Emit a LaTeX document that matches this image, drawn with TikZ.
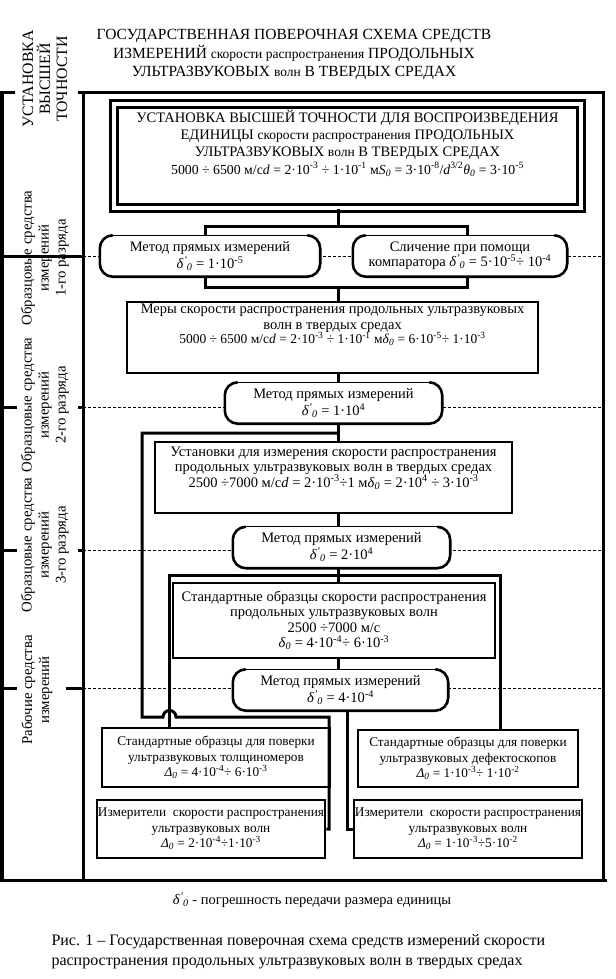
\documentclass[tikz,border=0pt]{standalone}
\usepackage{fontspec}
\setmainfont{Liberation Serif}

\newcommand{\fs}[2]{\fontsize{#1bp}{#2bp}\selectfont}
\newcommand{\dz}{\textit{δ}\textsubscript{\textit{0}}}
\newcommand{\dpr}{\textit{δ}\textsuperscript{\textit{'}}\kern-0.5bp\textsubscript{\textit{0}}}
\newcommand{\Dz}{\textit{Δ}\textsubscript{\textit{0}}}
\newcommand{\tn}[1]{10\textsuperscript{#1}}

\begin{document}
\begin{tikzpicture}[x=1bp,y=-1bp,font=\fs{14.5}{16.5},
  fr/.style={line width=3bp},
  ln/.style={line width=3bp},
  dl/.style={line width=0.6bp,dash pattern=on 3bp off 2bp},
  bx/.style={draw,line width=2.8bp,fill=white,align=center,inner sep=1bp,font=\fs{14.5}{15.5}},
  bt/.style={draw,line width=2.8bp,fill=white,align=center,inner sep=1bp,font=\fs{13.3}{15.5}},
  mt/.style={fill=white,rounded corners=13bp,align=center,inner sep=1bp,minimum height=41bp,font=\fs{14.5}{17}},
  side/.style={rotate=90,align=center,font=\fs{14.8}{17}}]
\useasboundingbox (0,0) rectangle (616,979);
% title
\node[font=\fs{15.5}{18.5},align=center] (ttl) at (294,55) {ГОСУДАРСТВЕННАЯ ПОВЕРОЧНАЯ СХЕМА СРЕДСТВ\\
  ИЗМЕРЕНИЙ {\fs{13.5}{18.5}скорости распространения} ПРОДОЛЬНЫХ\\
  УЛЬТРАЗВУКОВЫХ {\fs{13.5}{18.5}волн} В ТВЕРДЫХ СРЕДАХ};
% levels on the left
\node[side,font=\fs{15.8}{17}] (s0) at (45,79) {УСТАНОВКА\\ВЫСШЕЙ\\ТОЧНОСТИ};
\node[side] (s1) at (45,258) {Образцовые средства\\измерений\\1-го разряда};
\node[side] (s2) at (45,405) {Образцовые средства\\измерений\\2-го разряда};
\node[side] (s3) at (45,545) {Образцовые средства\\измерений\\3-го разряда};
\node[side] (s4) at (37,690) {Рабочие средства\\измерений};
% frame and level marks
\foreach \y in {256,407,550,688} \draw[dl] (83,\y) -- (603,\y);
\draw[fr] (2,92) -- (2,880);
\draw[fr] (83,92) -- (83,880);
\draw[fr] (78,92) -- (603,92) -- (603,880);
\draw[fr] (0,880) -- (607,880);
\draw[fr] (0.5,92) -- (15,92);
\draw[fr] (2,256) -- (83,256);
\foreach \y/\a in {407/78,550/78,688/66} {
  \draw[fr] (0.5,\y) -- (17,\y);
  \draw[fr] (\a,\y) -- (83,\y);
}
% boxes
\node[bx,double,double distance=4.5bp,minimum width=467bp,minimum height=104bp] (ust) at (347.5,156)
  {УСТАНОВКА ВЫСШЕЙ ТОЧНОСТИ ДЛЯ ВОСПРОИЗВЕДЕНИЯ\\[1.5bp]
   ЕДИНИЦЫ {\fs{13.5}{17}скорости распространения} ПРОДОЛЬНЫХ\\[1.5bp]
   УЛЬТРАЗВУКОВЫХ {\fs{13.5}{17}волн} В ТВЕРДЫХ СРЕДАХ\\[2bp]
   {\fs{13.8}{17}5000 ÷ 6500 м/с\textit{d} = 2·\tn{-3} ÷ 1·\tn{-1} м\textit{S}\textsubscript{\textit{0}} = 3·\tn{-8}/\textit{d}\textsuperscript{3/2}\textit{θ}\textsubscript{\textit{0}} = 3·\tn{-5}}\\[12bp]\mbox{}};
\node[mt,minimum width=220bp] (m1) at (210,256) {Метод прямых измерений\\ \dpr\ = 1·\tn{-5}};
\node[mt,minimum width=214bp] (m2) at (460,256) {Сличение при помощи\\[-2bp] компаратора \dpr\ = 5·\tn{-5}÷ \tn{-4}};
\node[bx,minimum width=411bp,minimum height=71bp] (mery) at (332.5,337.5)
  {Меры скорости распространения продольных ультразвуковых\\
   волн в твердых средах\\[-1bp]
   {\fs{13.5}{14}5000 ÷ 6500 м/с\textit{d} = 2·\tn{-3} ÷ 1·\tn{-1} м\dz\ = 6·\tn{-5}÷ 1·\tn{-3}}\\[12bp]\mbox{}};
\node[mt,minimum width=217bp] (m3) at (333.5,403) {Метод прямых измерений\\ \dpr\ = 1·\tn{4}};
\node[bx,minimum width=357bp,minimum height=71bp] (ustan) at (333.5,477.5)
  {Установки для измерения скорости распространения\\
   продольных ультразвуковых волн в твердых средах\\
   2500 ÷7000 м/с\textit{d} = 2·\tn{-3}÷1 м\dz\ = 2·\tn{4} ÷ 3·\tn{-3}\\[6bp]\mbox{}};
\node[mt,minimum width=217bp] (m4) at (341.5,547.5) {Метод прямых измерений\\ \dpr\ = 2·\tn{4}};
\node[bx,minimum width=322bp,minimum height=75bp] (obr) at (334,620.5)
  {Стандартные образцы скорости распространения\\
   продольных ультразвуковых волн\\
   2500 ÷7000 м/с\\
   \dz\ = 4·\tn{-4}÷ 6·\tn{-3}};
\node[mt,minimum width=215bp] (m5) at (340.5,690) {Метод прямых измерений\\ \dpr\ = 4·\tn{-4}};
\node[bt,minimum width=228bp,minimum height=59bp] (sl) at (216,757.5)
  {Стандартные образцы для поверки\\ ультразвуковых толщиномеров\\ \Dz\ = 4·\tn{-4}÷ 6·\tn{-3}};
\node[bt,minimum width=220bp,minimum height=57bp] (sr) at (468,758.5)
  {Стандартные образцы для поверки\\ ультразвуковых дефектоскопов\\ \Dz\ = 1·\tn{-3}÷ 1·\tn{-2}};
\node[bt,minimum width=218bp,minimum height=58bp] (izl) at (211,829)
  {Измерители\ \ скорости распространения\\ ультразвуковых волн\\ \Dz\ = 2·\tn{-4}÷1·\tn{-3}};
\node[bt,minimum width=220bp,minimum height=58bp] (izr) at (468,829)
  {Измерители\ \ скорости распространения\\ ультразвуковых волн\\ \Dz\ = 1·\tn{-3}÷5·\tn{-2}};
% outline of the method boxes: thin top, heavy sides and bottom
\foreach \m in {m1,m2,m3,m4,m5} {
  \draw[line width=2.6bp,rounded corners=13bp] ([xshift=13bp]\m.north west) -- (\m.north west)
    -- (\m.south west) -- (\m.south east) -- (\m.north east) -- ([xshift=-13bp]\m.north east);
  \draw[line width=1.3bp] ([xshift=12bp]\m.north west) -- ([xshift=-12bp]\m.north east);
}
% links
\coordinate (ax) at (338,0);
\coordinate (c3) at (347,0);
\coordinate (l1) at (205,0);
\coordinate (l2) at (467,0);
\coordinate (j1) at (338,226);
\coordinate (j2) at (338,287);
\coordinate (j3) at (338,433);
\coordinate (j4) at (338,575);
\coordinate (k1) at (142,717);
\coordinate (k2) at (329,717);
\coordinate (b1) at (169,575);
\coordinate (b2) at (500,575);
\draw[ln] (ust.south -| ax) -- (j1);
\draw[ln] (m1.north -| l1) |- (j1) -| (m2.north -| l2);
\draw[ln] (m1.south -| l1) |- (j2) -| (m2.south -| l2);
\draw[ln] (j2) -- (mery.north -| ax);
\draw[ln] (mery.south -| ax) -- (m3.north -| ax);
\draw[ln] (m3.south -| ax) -- (ustan.north -| ax);
\draw[ln] (j3) -| (k1) -- ++(21,0) arc[start angle=180,end angle=0,radius=6.5bp] -- (k2) |- (izl.east);
\draw[ln] (ustan.south -| ax) -- (m4.north -| ax);
\draw[ln] (m4.south -| ax) -- (j4);
\draw[ln] (sl.north -| b1) |- (b2) -- (sr.north -| b2);
\draw[ln] (j4) -- (obr.north -| ax);
\draw[ln] (obr.south -| ax) -- (m5.north -| ax);
\draw[ln] (m5.south -| c3) |- (izr.west);
% notes
\node[font=\fs{14.5}{16}] (leg) at (312,900) {\dpr\ - погрешность передачи размера единицы};
\node[font=\fs{16}{20},align=left,anchor=north west] (cap) at (48,931)
  {Рис. 1 – Государственная поверочная схема средств измерений скорости\\
   распространения продольных ультразвуковых волн в твердых средах};
\end{tikzpicture}
\end{document}
